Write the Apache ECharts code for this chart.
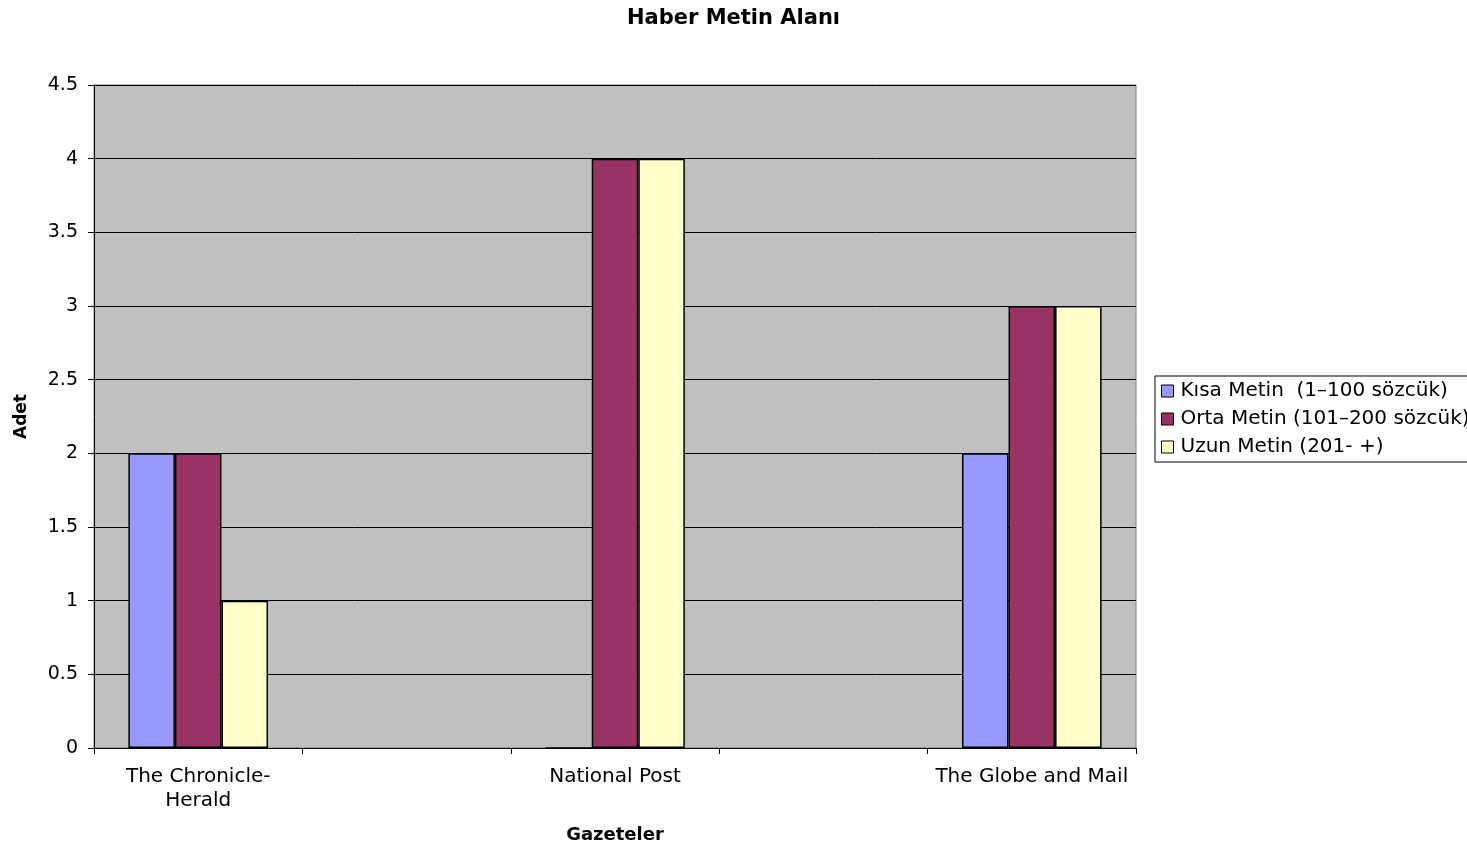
<!DOCTYPE html>
<html>
<head>
<meta charset="utf-8">
<script src="https://cdn.jsdelivr.net/npm/echarts@6/dist/echarts.min.js"></script>
<style>
html,body{margin:0;padding:0;background:#fff;}
#c{width:1467px;height:846px;}
</style>
</head>
<body>
<div id="c"></div>
<script>
const categories = ["The Chronicle-\nHerald", "", "National Post", "", "The Globe and Mail"];
const seriesNames = ["Kısa Metin  (1–100 sözcük)", "Orta Metin (101–200 sözcük)", "Uzun Metin (201- +)"];
const kisa = [2, null, 0, null, 2];
const orta = [2, null, 4, null, 3];
const uzun = [1, null, 4, null, 3];
const colors = ["#9999FF", "#993366", "#FFFFCC"];

const font = "DejaVu Sans, sans-serif";
const chart = echarts.init(document.getElementById('c'), null, {renderer: 'canvas'});
const mk = (name, data, color) => ({
  name: name, type: 'bar', data: data,
  barGap: '0%', barCategoryGap: '33%',
  itemStyle: {color: color, borderColor: '#000', borderWidth: 1.5},
  emphasis: {disabled: true}
});
chart.setOption({
  animation: false,
  textStyle: {fontFamily: font},
  title: {
    text: 'Haber Metin Alanı', left: 'center', top: 3,
    textStyle: {fontFamily: font, fontSize: 21, fontWeight: 'bold', color: '#000'}
  },
  legend: {
    orient: 'vertical', left: 1155, top: 376,
    padding: [5, 4, 5, 6], itemGap: 8,
    itemWidth: 12, itemHeight: 12, icon: 'rect',
    borderColor: '#000', borderWidth: 1,
    textStyle: {fontFamily: font, fontSize: 20, color: '#000', padding: [0, 0, 0, 2]},
    itemStyle: {borderColor: '#000', borderWidth: 1},
    data: seriesNames
  },
  grid: {left: 94, right: 331, top: 85, bottom: 98, outerBoundsMode: 'none', containLabel: false, show: true, backgroundColor: '#C0C0C0', borderColor: '#808080', borderWidth: 1},
  xAxis: {
    type: 'category', data: categories,
    name: 'Gazeteler', nameLocation: 'middle', nameGap: 78,
    nameTextStyle: {fontFamily: font, fontSize: 18, fontWeight: 'bold', color: '#000'},
    axisLine: {lineStyle: {color: '#000', width: 1}},
    axisTick: {show: true, alignWithLabel: false, length: 6, lineStyle: {color: '#000'}},
    axisLabel: {interval: 0, fontFamily: font, fontSize: 20, color: '#000', margin: 17, lineHeight: 24},
    splitLine: {show: false}
  },
  yAxis: {
    type: 'value', min: 0, max: 4.5, interval: 0.5,
    name: 'Adet', nameLocation: 'middle', nameGap: 64, nameRotate: 90,
    nameTextStyle: {fontFamily: font, fontSize: 17, fontWeight: 'bold', color: '#000'},
    axisLine: {show: true, lineStyle: {color: '#000', width: 1}},
    axisTick: {show: true, length: 6, lineStyle: {color: '#000'}},
    axisLabel: {fontFamily: font, fontSize: 19, color: '#000', margin: 16},
    splitLine: {show: true, lineStyle: {color: '#000', width: 1}}
  },
  series: [mk(seriesNames[0], kisa, colors[0]), mk(seriesNames[1], orta, colors[1]), mk(seriesNames[2], uzun, colors[2])]
});
</script>
</body>
</html>
